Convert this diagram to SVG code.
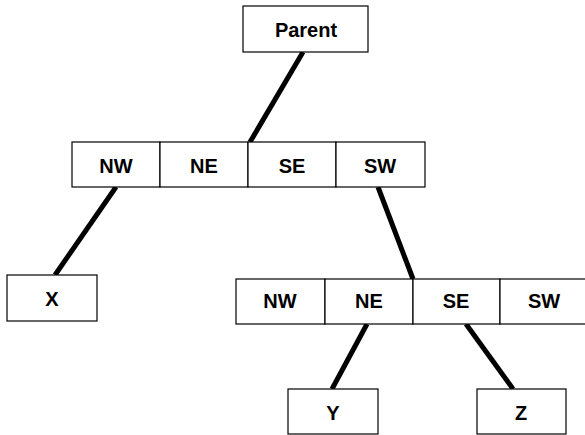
<svg xmlns="http://www.w3.org/2000/svg" width="585" height="435" viewBox="0 0 585 435">
<style>
.box{fill:#fff;stroke:#000;stroke-width:1.2}
.t{font-family:"Liberation Sans",Arial,sans-serif;font-weight:bold;font-size:20px;text-anchor:middle;fill:#000}
.e{stroke:#000;stroke-width:5;fill:none}
</style>
<rect width="585" height="435" fill="#fff"/>
<g id="connectors">
<line class="e" x1="303" y1="52" x2="250" y2="142"/>
<line class="e" x1="116" y1="187" x2="55" y2="275"/>
<line class="e" x1="378" y1="187" x2="413" y2="279"/>
<line class="e" x1="367" y1="324" x2="332" y2="389"/>
<line class="e" x1="466" y1="324" x2="513" y2="389"/>
</g>
<g id="parent"><rect class="box" x="243" y="6" width="125" height="46"/><text class="t" x="306" y="37">Parent</text></g>
<g id="top-row">
<g id="top-nw"><rect class="box" x="72" y="142" width="88" height="45"/><text class="t" x="116" y="173">NW</text></g>
<g id="top-ne"><rect class="box" x="160" y="142" width="88" height="45"/><text class="t" x="204" y="173">NE</text></g>
<g id="top-se"><rect class="box" x="248" y="142" width="88" height="45"/><text class="t" x="292" y="173">SE</text></g>
<g id="top-sw"><rect class="box" x="336" y="142" width="89" height="45"/><text class="t" x="380" y="173">SW</text></g>
</g>
<g id="x"><rect class="box" x="7" y="275" width="90" height="46"/><text class="t" x="52" y="306">X</text></g>
<g id="bottom-row">
<g id="bot-nw"><rect class="box" x="236" y="279" width="89" height="45"/><text class="t" x="280" y="308">NW</text></g>
<g id="bot-ne"><rect class="box" x="325" y="279" width="88" height="45"/><text class="t" x="369" y="308">NE</text></g>
<g id="bot-se"><rect class="box" x="413" y="279" width="87" height="45"/><text class="t" x="456" y="308">SE</text></g>
<g id="bot-sw"><rect class="box" x="500" y="279" width="90" height="45"/><text class="t" x="544" y="308">SW</text></g>
</g>
<g id="y"><rect class="box" x="288" y="389" width="90" height="45"/><text class="t" x="333" y="420">Y</text></g>
<g id="z"><rect class="box" x="477" y="389" width="89" height="45"/><text class="t" x="521" y="420">Z</text></g>
</svg>
